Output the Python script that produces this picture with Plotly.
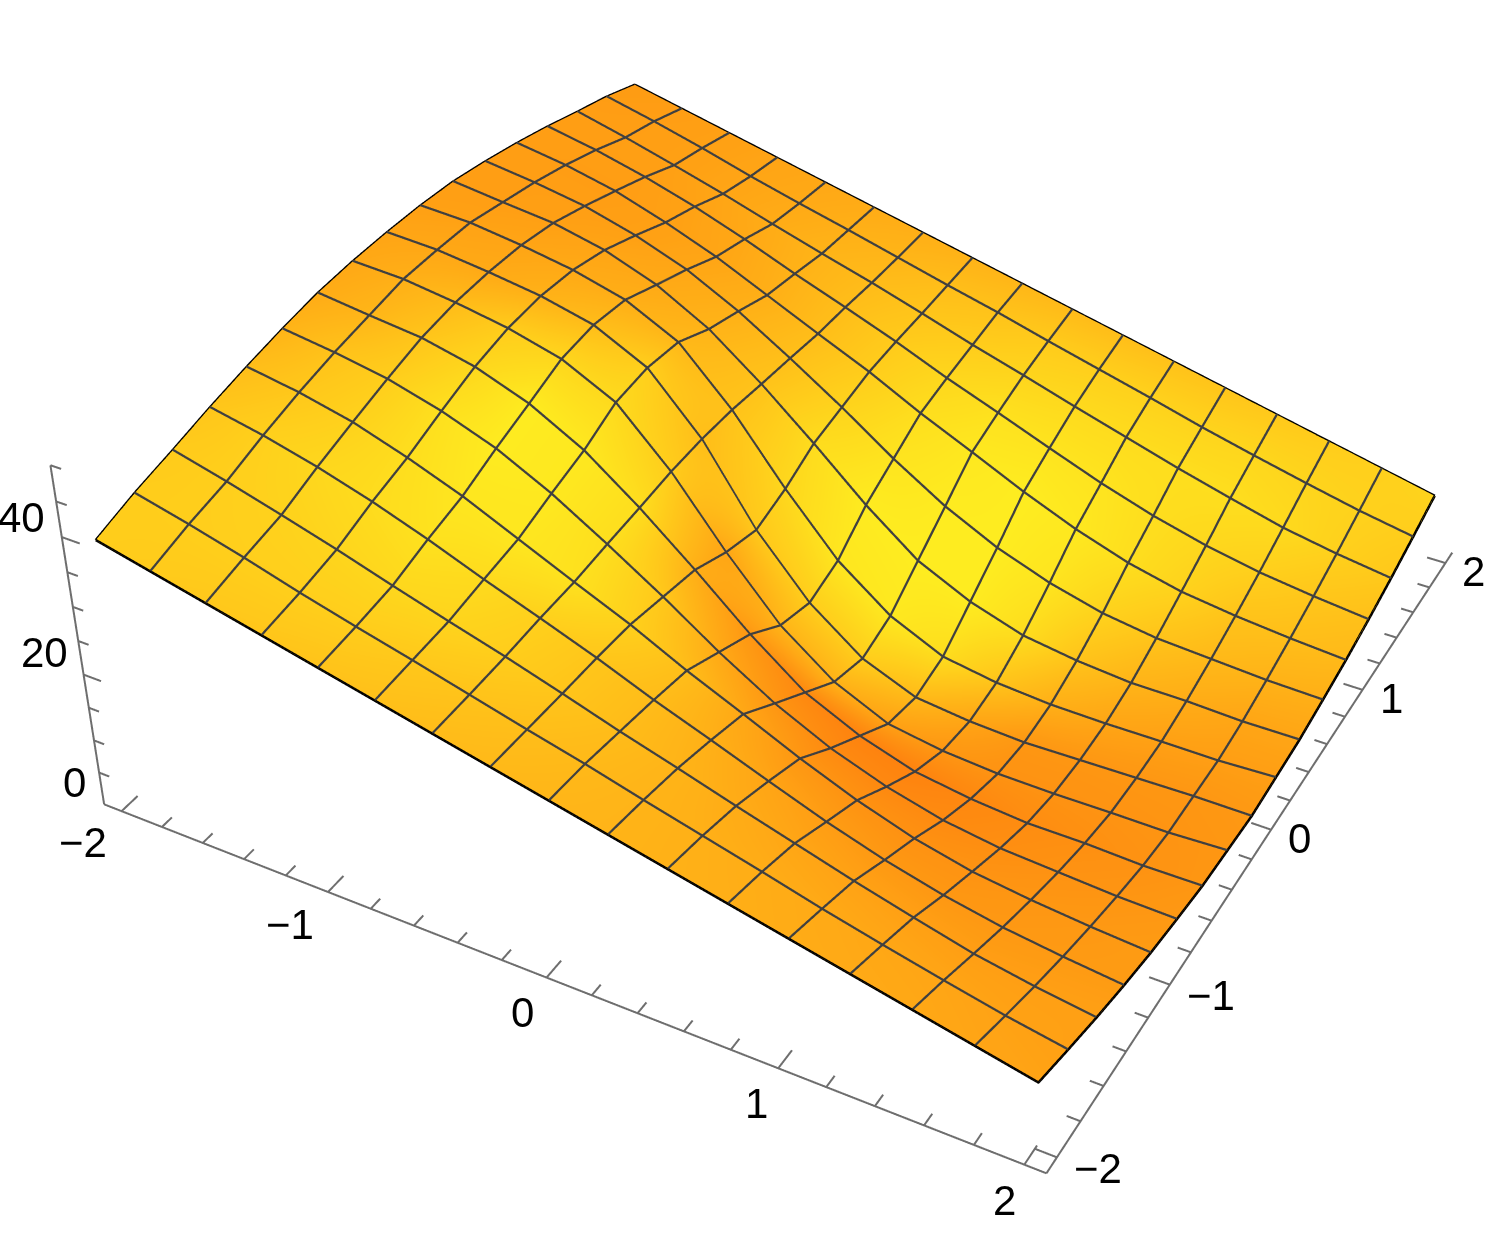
import plotly.graph_objects as go

# mesh coordinates of the surface
x_vals = [-2, -1.75, -1.5, -1.25, -1, -0.75, -0.5, -0.25, 0, 0.25, 0.5, 0.75, 1, 1.25, 1.5, 1.75, 2]
y_vals = [-2, -1.75, -1.5, -1.25, -1, -0.75, -0.5, -0.25, 0, 0.25, 0.5, 0.75, 1, 1.25, 1.5, 1.75, 2]

# heights, one row per y value
z_rows = [
    [38.8, 37.0, 35.2, 33.4, 31.6, 29.8, 28.0, 26.2, 24.4, 22.6, 20.8, 19.0, 17.2, 15.4, 13.6, 11.8, 10.0],
    [40.6, 38.7, 36.6, 34.3, 32.2, 30.2, 28.1, 26.0, 24.0, 21.8, 19.7, 17.6, 15.4, 13.4, 11.5, 9.7, 8.2],
    [42.0, 40.0, 37.8, 35.5, 33.0, 30.6, 28.3, 25.8, 23.2, 20.8, 18.3, 15.9, 13.5, 11.3, 9.2, 7.7, 6.5],
    [43.5, 41.9, 39.9, 37.5, 34.7, 31.6, 28.7, 25.7, 22.4, 19.4, 16.3, 13.3, 10.7, 8.6, 7.0, 5.9, 5.0],
    [44.8, 43.5, 41.7, 39.1, 36.1, 32.5, 28.9, 25.4, 21.4, 17.8, 14.1, 10.8, 8.1, 6.2, 5.1, 4.3, 3.7],
    [45.9, 44.8, 43.4, 41.2, 38.3, 34.3, 29.5, 24.4, 18.9, 14.0, 10.1, 7.2, 5.1, 3.9, 3.4, 2.9, 2.7],
    [46.8, 45.8, 44.9, 43.1, 40.2, 35.9, 30.0, 23.4, 16.4, 10.3, 6.5, 3.9, 2.7, 2.0, 2.0, 1.7, 1.8],
    [47.2, 46.8, 45.7, 44.3, 42.2, 38.3, 30.6, 21.1, 12.6, 6.6, 2.9, 1.6, 1.0, 0.9, 1.0, 1.0, 1.4],
    [47.3, 46.9, 45.9, 44.7, 42.8, 38.9, 30.8, 19.6, 11.0, 5.0, 1.7, 0.8, 0.4, 0.6, 0.8, 1.0, 1.0],
    [47.2, 46.8, 45.7, 44.3, 42.2, 38.3, 30.6, 21.1, 12.6, 6.6, 2.9, 1.6, 1.0, 0.9, 1.0, 1.0, 1.4],
    [46.8, 45.8, 44.9, 43.1, 40.2, 35.9, 30.0, 23.4, 16.4, 10.3, 6.5, 3.9, 2.7, 2.0, 2.0, 1.7, 1.8],
    [45.9, 44.8, 43.4, 41.2, 38.3, 34.3, 29.5, 24.4, 18.9, 14.0, 10.1, 7.2, 5.1, 3.9, 3.4, 2.9, 2.7],
    [44.8, 43.5, 41.7, 39.1, 36.1, 32.5, 28.9, 25.4, 21.4, 17.8, 14.1, 10.8, 8.1, 6.2, 5.1, 4.3, 3.7],
    [43.5, 41.9, 39.9, 37.5, 34.7, 31.6, 28.7, 25.7, 22.4, 19.4, 16.3, 13.3, 10.7, 8.6, 7.0, 5.9, 5.0],
    [42.0, 40.0, 37.8, 35.5, 33.0, 30.6, 28.3, 25.8, 23.2, 20.8, 18.3, 15.9, 13.5, 11.3, 9.2, 7.7, 6.5],
    [40.6, 38.7, 36.6, 34.3, 32.2, 30.2, 28.1, 26.0, 24.0, 21.8, 19.7, 17.6, 15.4, 13.4, 11.5, 9.7, 8.2],
    [38.8, 37.0, 35.2, 33.4, 31.6, 29.8, 28.0, 26.2, 24.4, 22.6, 20.8, 19.0, 17.2, 15.4, 13.6, 11.8, 10.0],
]

# surface tone, orange (low) to yellow (high)
shade_rows = [
    [205, 203, 200, 198, 195, 192, 188, 185, 182, 180, 177, 175, 172, 170, 168, 165, 163],
    [205, 206, 207, 207, 205, 200, 195, 190, 185, 180, 176, 173, 170, 167, 165, 162, 160],
    [203, 207, 210, 213, 215, 212, 205, 197, 188, 180, 172, 166, 162, 160, 158, 159, 160],
    [198, 208, 215, 220, 225, 218, 208, 198, 188, 176, 165, 157, 152, 151, 152, 154, 155],
    [190, 200, 210, 222, 230, 230, 225, 208, 190, 168, 150, 146, 145, 147, 150, 152, 155],
    [180, 195, 206, 224, 235, 232, 222, 200, 170, 150, 138, 136, 138, 142, 146, 149, 152],
    [172, 182, 198, 215, 235, 232, 222, 175, 150, 135, 130, 130, 135, 140, 143, 146, 150],
    [168, 176, 188, 205, 215, 218, 205, 165, 180, 178, 160, 150, 146, 146, 147, 148, 150],
    [165, 168, 170, 178, 190, 208, 190, 200, 205, 205, 185, 165, 150, 150, 150, 150, 152],
    [160, 162, 165, 170, 175, 185, 195, 215, 230, 232, 220, 195, 175, 165, 160, 158, 158],
    [158, 158, 160, 165, 170, 180, 195, 220, 235, 236, 235, 220, 195, 180, 172, 165, 165],
    [158, 158, 158, 160, 167, 177, 192, 212, 228, 235, 236, 228, 210, 195, 185, 178, 175],
    [158, 157, 157, 160, 165, 175, 190, 205, 222, 232, 236, 232, 222, 210, 195, 190, 185],
    [158, 158, 158, 162, 168, 178, 190, 203, 215, 225, 228, 228, 222, 215, 207, 198, 192],
    [158, 158, 160, 165, 172, 180, 188, 197, 205, 213, 218, 220, 222, 222, 218, 208, 200],
    [156, 158, 160, 165, 170, 176, 182, 190, 195, 203, 207, 210, 212, 215, 213, 210, 205],
    [155, 157, 160, 164, 168, 172, 175, 179, 183, 187, 190, 194, 197, 201, 205, 208, 212],
]

# axis ticks and labels
axis_major = [-2, -1, 0, 1, 2]
axis_minor = [-1.8, -1.6, -1.4, -1.2, -0.8, -0.6, -0.4, -0.2, 0.2, 0.4, 0.6, 0.8, 1.2, 1.4, 1.6, 1.8]
axis_labels = ['\u22122', '\u22121', '0', '1', '2']
z_major = [20, 40]
z_minor = [5, 10, 15, 25, 30, 35, 45, 50]
z_labels = ['0', '20', '40']
z_label_values = [0, 20, 40]

BOX = 2.087
Z_TOP = 50
FONT = dict(family='Arial, Liberation Sans', size=42, color='black')
AXIS_COLOR = '#6e6e6e'
MESH_LIFT = 0.12  # keeps the mesh lines from fighting with the surface in the depth buffer

# plotly's field of view is fixed, so the scene is larger than the page and slid into place
SCENE_SIZE = 2879
OFFSET_LEFT = 630
OFFSET_TOP = 927


def line_trace(xs, ys, zs, color, width):
    return go.Scatter3d(x=xs, y=ys, z=zs, mode='lines', line=dict(color=color, width=width),
                        hoverinfo='skip', showlegend=False)


def axis_trace(color, width):
    pairs = [((-BOX, -BOX, 0), (BOX, -BOX, 0)),
             ((BOX, -BOX, 0), (BOX, BOX, 0)),
             ((-BOX, -BOX, 0), (-BOX, -BOX, Z_TOP))]
    for v in axis_major:
        pairs.append(((v, -BOX, 0), (v, -BOX + 0.105, 0)))
        pairs.append(((BOX, v, 0), (BOX - 0.085, v, 0)))
    for v in axis_minor:
        pairs.append(((v, -BOX, 0), (v, -BOX + 0.065, 0)))
        pairs.append(((BOX, v, 0), (BOX - 0.055, v, 0)))
    for v in z_major:
        pairs.append(((-BOX, -BOX, v), (-BOX + 0.085, -BOX, v)))
    for v in z_minor:
        pairs.append(((-BOX, -BOX, v), (-BOX + 0.05, -BOX, v)))
    xs, ys, zs = [], [], []
    for a, b in pairs:
        xs += [a[0], b[0], None]
        ys += [a[1], b[1], None]
        zs += [a[2], b[2], None]
    return line_trace(xs, ys, zs, color, width)


def mesh_trace(color, width):
    # one polyline per mesh row and column, taken straight from the height table
    xs, ys, zs = [], [], []
    for j in range(1, len(y_vals) - 1):
        xs += x_vals + [None]
        ys += [y_vals[j]] * len(x_vals) + [None]
        zs += [v + MESH_LIFT for v in z_rows[j]] + [None]
    for i in range(1, len(x_vals) - 1):
        xs += [x_vals[i]] * len(y_vals) + [None]
        ys += y_vals + [None]
        zs += [row[i] + MESH_LIFT for row in z_rows] + [None]
    return line_trace(xs, ys, zs, color, width)


def edge_trace(color, width):
    xs = x_vals + [x_vals[-1]] * len(y_vals) + x_vals[::-1] + [x_vals[0]] * len(y_vals)
    ys = [y_vals[0]] * len(x_vals) + y_vals + [y_vals[-1]] * len(x_vals) + y_vals[::-1]
    zs = (z_rows[0] + [row[-1] for row in z_rows] + z_rows[-1][::-1]
          + [row[0] for row in z_rows[::-1]])
    return line_trace(xs, ys, zs, color, width)


def label(text, x, y, z, dx, dy):
    return dict(text=text, x=x, y=y, z=z, showarrow=False, xshift=dx, yshift=-dy, font=FONT,
                xanchor='center', yanchor='middle')


surface = go.Surface(
    x=x_vals, y=y_vals, z=z_rows, surfacecolor=shade_rows,
    cmin=130, cmax=236, showscale=False, hoverinfo='skip',
    colorscale=[[0, 'rgb(254,131,15)'], [0.5, 'rgb(255,183,24)'], [1, 'rgb(254,236,32)']],
    lighting=dict(ambient=1, diffuse=0, specular=0, roughness=1, fresnel=0),
)

fig = go.Figure([surface, mesh_trace('#404040', 4.5), edge_trace('black', 5), axis_trace(AXIS_COLOR, 4)])

annotations = []
x_shifts = [(-39, 31), (-38, 33), (-24, 35), (-22, 35), (-20, 36)]
y_shifts = [(41, 11), (41, 11), (28, 9), (29, 9), (28, 8)]
z_shifts = [(-30, -22), (-39, -22), (-40, -20)]
for v, text, sx, sy in zip(axis_major, axis_labels, x_shifts, y_shifts):
    annotations.append(label(text, v, -BOX, 0, sx[0], sx[1]))
    annotations.append(label(text, BOX, v, 0, sy[0], sy[1]))
for v, text, sz in zip(z_label_values, z_labels, z_shifts):
    annotations.append(label(text, -BOX, -BOX, v, sz[0], sz[1]))

fig.update_layout(
    width=SCENE_SIZE, height=SCENE_SIZE, autosize=False,
    margin=dict(l=0, r=0, t=0, b=0), paper_bgcolor='white', showlegend=False,
    scene=dict(
        domain=dict(x=[0, 1], y=[0, 1]),
        xaxis=dict(visible=False, range=[-BOX, BOX]),
        yaxis=dict(visible=False, range=[-BOX, BOX]),
        zaxis=dict(visible=False, range=[0, Z_TOP]),
        aspectmode='manual', aspectratio=dict(x=1, y=1, z=0.4),
        camera=dict(eye=dict(x=1.3, y=-2.4, z=2), center=dict(x=0, y=0, z=0), up=dict(x=0, y=0, z=1)),
        annotations=annotations,
    ),
)

slide = ("var gd=document.getElementById('{plot_id}');"
         "gd.style.position='absolute';gd.style.left='-%dpx';gd.style.top='-%dpx';"
         "document.documentElement.style.overflow='hidden';document.body.style.overflow='hidden';"
         % (OFFSET_LEFT, OFFSET_TOP))

fig.write_html("out.html", post_script=slide)
